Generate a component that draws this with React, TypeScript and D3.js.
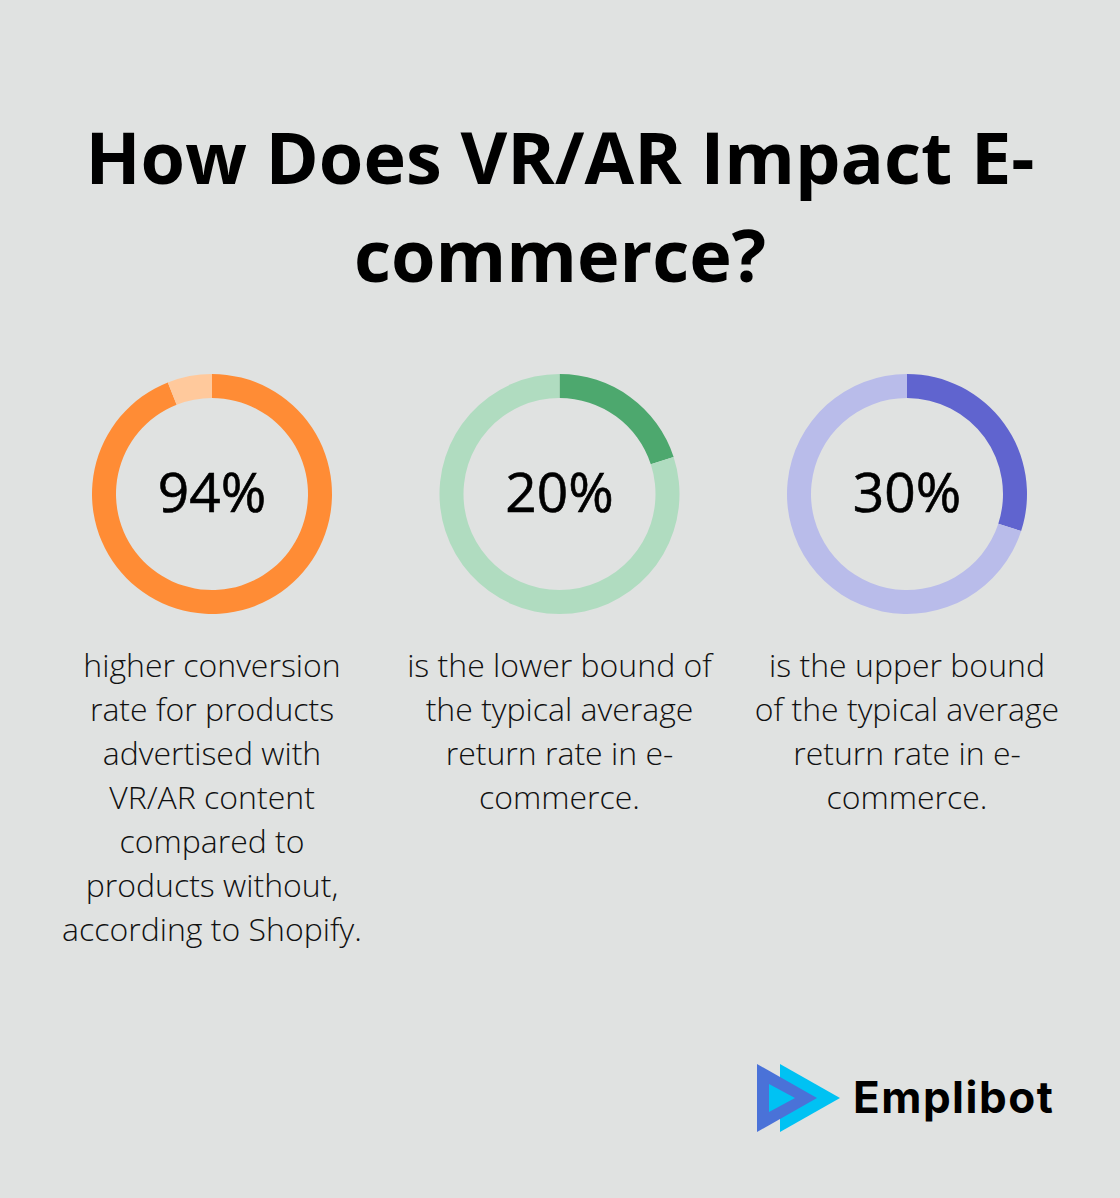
import React from "react";
import * as d3 from "d3";

const W = 1120;
const H = 1198;

const titleLines = ["How Does VR/AR Impact E-", "commerce?"];
const values = [94, 20, 30];
const valueLabels = ["94%", "20%", "30%"];
const mainColors = ["#FF8C35", "#4DA86E", "#6064CF"];
const restColors = ["#FFC99C", "#B0DCC0", "#B9BCEA"];
const descriptions = [
  [
    "higher conversion",
    "rate for products",
    "advertised with",
    "VR/AR content",
    "compared to",
    "products without,",
    "according to Shopify.",
  ],
  [
    "is the lower bound of",
    "the typical average",
    "return rate in e-",
    "commerce.",
  ],
  [
    "is the upper bound",
    "of the typical average",
    "return rate in e-",
    "commerce.",
  ],
];
const brand = "Emplibot";

export default function App() {
  const x = d3.scalePoint<number>().domain([0, 1, 2]).range([212, 907]);
  const cy = 494;
  const arc = d3.arc<d3.PieArcDatum<number>>().innerRadius(96).outerRadius(120);
  const pie = d3.pie<number>().sort(null).value((d) => d);

  return (
    <svg
      width={W}
      height={H}
      style={{ position: "absolute", left: 0, top: 0 }}
      xmlns="http://www.w3.org/2000/svg"
    >
      <rect x={0} y={0} width={W} height={H} fill="#E0E2E1" />
      {titleLines.map((t, i) => (
        <text
          key={i}
          x={W / 2}
          y={184 + i * 98}
          textAnchor="middle"
          fontFamily="'Open Sans', sans-serif"
          fontWeight={700}
          fontSize={72}
          fill="#000"
        >
          {t}
        </text>
      ))}
      {values.map((v, i) => {
        const arcs = pie([v, 100 - v]);
        const cx = x(i)!;
        return (
          <g key={i}>
            <g transform={`translate(${cx},${cy})`}>
              {arcs.map((a, j) => (
                <path
                  key={j}
                  d={arc(a)!}
                  fill={j === 0 ? mainColors[i] : restColors[i]}
                />
              ))}
              <text
                x={0}
                y={18}
                textAnchor="middle"
                fontFamily="'Open Sans', sans-serif"
                fontWeight={500}
                fontSize={55}
                stroke="#000"
                strokeWidth={0.6}
                fill="#000"
              >
                {valueLabels[i]}
              </text>
            </g>
            {descriptions[i].map((line, k) => (
              <text
                key={k}
                x={cx}
                y={677 + k * 44}
                textAnchor="middle"
                fontFamily="'Open Sans', sans-serif"
                fontWeight={300}
                fontSize={32}
                fill="#111"
              >
                {line}
              </text>
            ))}
          </g>
        );
      })}
      <g>
        <polygon points="780,1064 840,1098 780,1132" fill="#00C2F3" />
        <polygon points="757,1064 817,1098 757,1132" fill="#4A72D8" />
        <polygon points="769,1084 795,1098 769,1112" fill="#00C2F3" />
        <text
          x={853}
          y={1113}
          fontFamily="Inter, sans-serif"
          fontWeight={700}
          fontSize={44}
          letterSpacing={1.5}
          fill="#000"
        >
          {brand}
        </text>
      </g>
    </svg>
  );
}
